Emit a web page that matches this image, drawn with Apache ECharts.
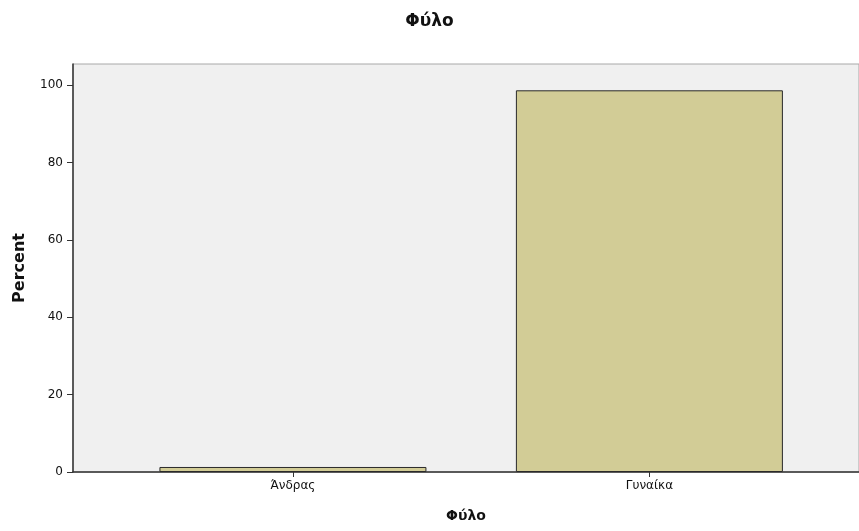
<!DOCTYPE html>
<html><head><meta charset="utf-8">
<script src="https://cdn.jsdelivr.net/npm/echarts@6/dist/echarts.min.js"></script>
<style>html,body{margin:0;padding:0;background:#fff}#c{width:859px;height:531px}</style>
</head><body><div id="c"></div>
<script>
const categories = ['Άνδρας', 'Γυναίκα'];
const percentValues = [1.3, 98.7];
const yTicks = [0, 20, 40, 60, 80, 100];

const chart = echarts.init(document.getElementById('c'), null, {renderer: 'canvas'});
const positions = categories.map((_, i) => i + 1);
const font = '"DejaVu Sans", Verdana, sans-serif';
chart.setOption({
  animation: false,
  backgroundColor: '#ffffff',
  title: {
    text: 'Φύλο', left: 'center', top: 8,
    textStyle: {fontFamily: font, fontSize: 17, fontWeight: 'bold', color: '#111'}
  },
  grid: {
    left: 73, right: 0, top: 64, bottom: 59,
    show: true, backgroundColor: '#f0f0f0', borderColor: '#a8a8a8', borderWidth: 1
  },
  xAxis: {
    type: 'value', min: 0.383, max: 2.588,
    name: 'Φύλο', nameLocation: 'middle', nameGap: 37,
    nameTextStyle: {fontFamily: font, fontSize: 14, fontWeight: 'bold', color: '#111'},
    axisLine: {show: true, onZero: false, lineStyle: {color: '#333', width: 1.5}},
    axisTick: {show: true, customValues: positions, length: 5, lineStyle: {color: '#333'}},
    axisLabel: {
      customValues: positions, margin: 8,
      fontFamily: font, fontSize: 12, color: '#111',
      formatter: v => categories[Math.round(v) - 1] || ''
    },
    splitLine: {show: false}
  },
  yAxis: {
    type: 'value', min: 0, max: 105.5,
    name: 'Percent', nameLocation: 'middle', nameGap: 45, nameRotate: 90,
    nameTextStyle: {fontFamily: font, fontSize: 16, fontWeight: 'bold', color: '#111'},
    axisLine: {show: true, lineStyle: {color: '#333', width: 1.5}},
    axisTick: {show: true, customValues: yTicks, length: 6, lineStyle: {color: '#333'}},
    axisLabel: {customValues: yTicks, margin: 10, fontFamily: font, fontSize: 12, color: '#111'},
    splitLine: {show: false}
  },
  series: [{
    type: 'bar',
    barWidth: 267,
    data: positions.map((p, i) => [p, percentValues[i]]),
    itemStyle: {color: '#d2cc96', borderColor: '#2a2a2a', borderWidth: 1}
  }]
});
</script></body></html>
